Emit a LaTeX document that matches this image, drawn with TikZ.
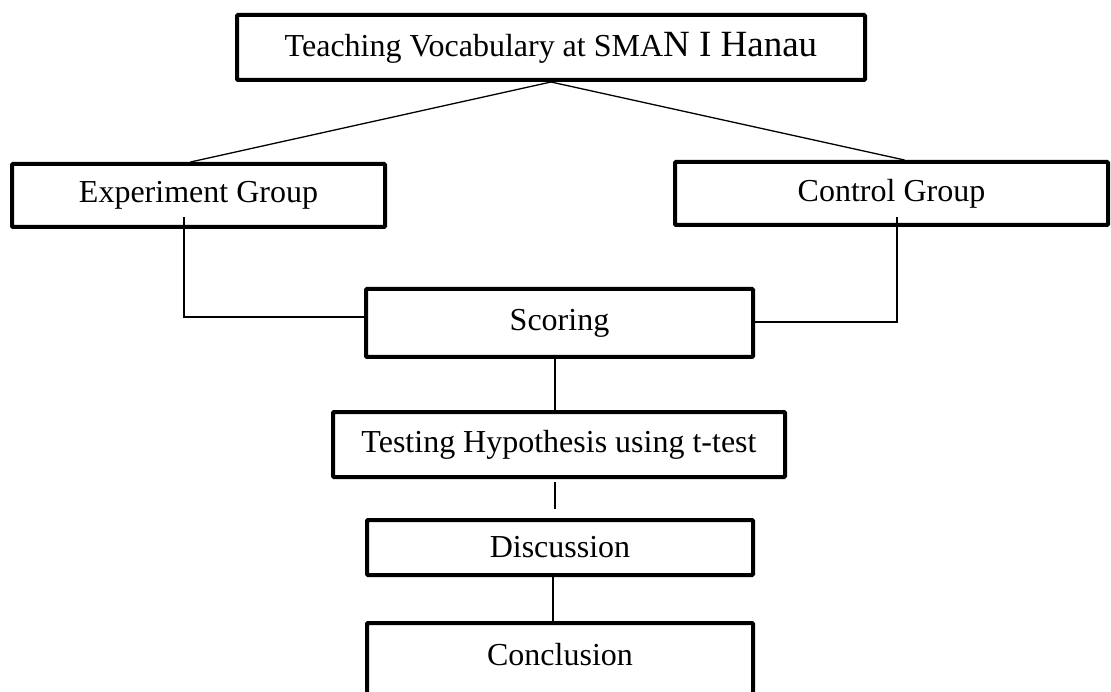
\documentclass[tikz,border=0pt]{standalone}
\usepackage{fontspec}
\setmainfont{Liberation Serif}
\usetikzlibrary{positioning}

\begin{document}
\begin{tikzpicture}[x=1pt, y=1pt,
    box/.style={draw, line width=4pt, rounded corners=1pt, inner sep=0pt, font=\fontsize{32}{38}\selectfont},
    link/.style={line width=1.3pt}]

    \useasboundingbox (0,0) rectangle (1111,-692);
    \clip (0,0) rectangle (1111,-692);

    \node [box, minimum width=628pt, minimum height=65pt] (title) at (551,-47.5) {Teaching Vocabulary at SMA{\fontsize{37}{44}\selectfont N I Hanau}};
    \node [box, minimum width=373pt, minimum height=63pt] (expgroup) at (198.5,-195.5) {Experiment Group};
    \node [box, minimum width=433pt, minimum height=63pt] (ctrlgroup) at (891.5,-193.5) {Control Group};
    \node [box, minimum width=387pt, minimum height=68pt] (scoring) at (559.5,-323) {Scoring};
    \node [box, minimum width=452pt, minimum height=65pt, below=51pt of scoring, xshift=-0.5pt] (ttest) {Testing Hypothesis using t-test};
    \node [box, minimum width=386pt, minimum height=55pt, below=39pt of ttest, xshift=1pt] (discussion) {Discussion};
    \node [box, minimum width=386pt, text height=21pt, text depth=50pt, inner ysep=21pt, below=44pt of discussion] (conclusion) {Conclusion};

    \draw [link] (title.south) -- ([xshift=-8pt]expgroup.north);
    \draw [link] (title.south) -- ([xshift=13pt]ctrlgroup.north);
    \draw [link] ([xshift=-14.5pt,yshift=-21.5pt]expgroup.center) |- ([yshift=6pt]scoring.west);
    \draw [link] ([xshift=5.5pt,yshift=-23.5pt]ctrlgroup.center) |- ([yshift=1pt]scoring.east);
    \draw [link] ([xshift=-4.5pt]scoring.south) -- ([xshift=-4pt]ttest.north);
    \draw [link] ([xshift=-4pt,yshift=-3pt]ttest.south) -- ([xshift=-5pt,yshift=9pt]discussion.north);
    \draw [link] ([xshift=-7pt]discussion.south) -- ([xshift=-7pt]conclusion.north);

\end{tikzpicture}
\end{document}
